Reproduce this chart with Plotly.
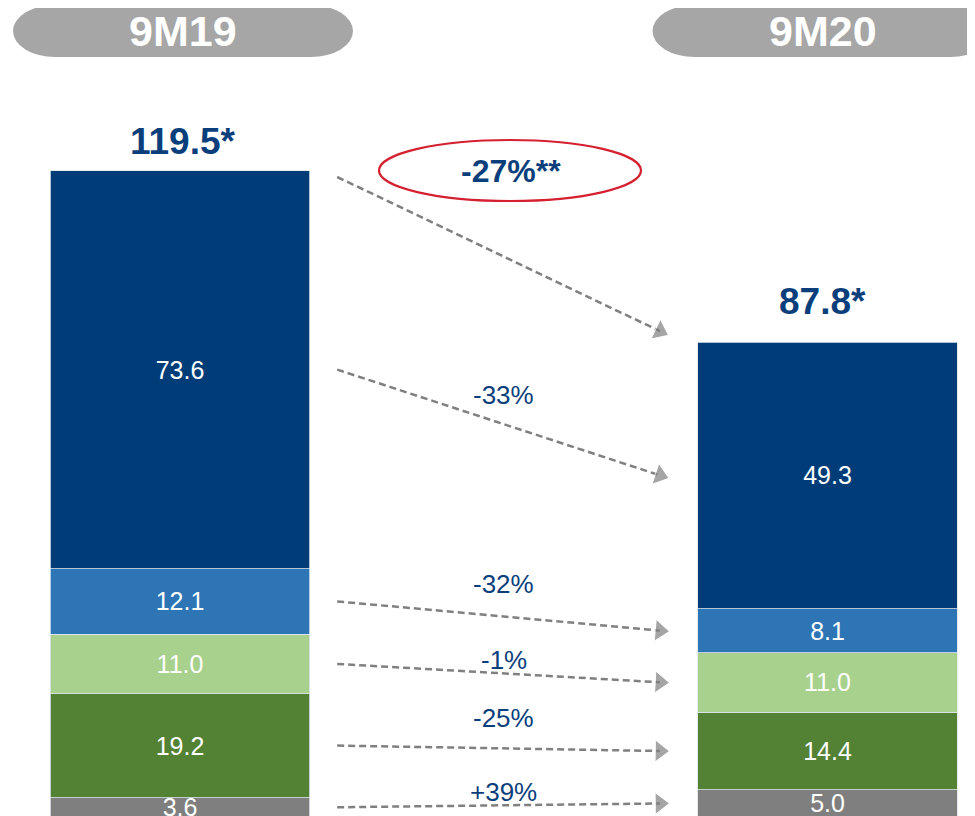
import plotly.graph_objects as go

# ---------------------------------------------------------------------------
# Data
# ---------------------------------------------------------------------------
periods = ["9M19", "9M20"]
segments = ["Grey", "Dark green", "Light green", "Mid blue", "Dark blue"]  # bottom -> top
values_9m19 = [3.6, 19.2, 11.0, 12.1, 73.6]
values_9m20 = [5.0, 14.4, 11.0, 8.1, 49.3]
totals = [119.5, 87.8]
total_labels = ["119.5*", "87.8*"]
total_change = "-27%**"
# change labels per segment, bottom -> top
change_labels = ["+39%", "-25%", "-1%", "-32%", "-33%"]

# ---------------------------------------------------------------------------
# Style
# ---------------------------------------------------------------------------
SEG_COLOURS = ["#7f7f7f", "#548235", "#a9d18e", "#2e75b6", "#003d78"]
TEXT_BLUE = "#0b3f7c"
ARROW_GREY = "#808080"
PILL_GREY = "#a6a6a6"
FONT = "Liberation Sans, Arial, sans-serif"

W, H = 975, 816
OFF = 8  # page body margin

BAR_POS = [0, 1]
BAR_W = 0.4015
X_RANGE = [-(180 - OFF) / 647.5, (W - 180 + OFF) / 647.5]
Y_RANGE = [(817 - OFF - H) / 5.41, (817 - OFF) / 5.41]
ARROW_X0 = BAR_POS[0] + BAR_W / 2 + 0.042
ARROW_X1 = BAR_POS[1] - BAR_W / 2 - 0.058
LABEL_SHIFT = [13, 30, 13, 32, 27]   # px above arrow midpoint, bottom -> top
HEAD_SHIFT = [3, -5]                 # px, header / total label nudge per bar


def paper(sx, sy):
    """screen pixel -> paper coords (figure sits OFF px into the page)"""
    return (sx - OFF) / W, 1 - (sy - OFF) / H


fig = go.Figure()

# stacked bars
for i, name in enumerate(segments):
    vals = [values_9m19[i], values_9m20[i]]
    fig.add_trace(go.Bar(
        x=BAR_POS, y=vals, width=BAR_W, name=name,
        marker=dict(color=SEG_COLOURS[i], line=dict(color="#dde6f0", width=0.8)),
        text=[f"{v:.1f}" for v in vals],
        textposition="inside", insidetextanchor="middle",
        constraintext="none", textangle=0,
        textfont=dict(family=FONT, size=25, color="white"),
        cliponaxis=False, hoverinfo="skip",
    ))


def mids(vals):
    out, base = [], 0.0
    for v in vals:
        out.append(base + v / 2)
        base += v
    return out


mid_a, mid_b = mids(values_9m19), mids(values_9m20)


def add_arrow(y0, y1):
    fig.add_trace(go.Scatter(
        x=[ARROW_X0, ARROW_X1], y=[y0, y1], mode="lines+markers",
        line=dict(color=ARROW_GREY, width=2.5, dash="7px,4px"),
        marker=dict(symbol="triangle-up", size=[0, 19], color=ARROW_GREY,
                    angleref="previous"),
        showlegend=False, hoverinfo="skip",
    ))


# segment arrows + change labels
for i, lab in enumerate(change_labels):
    add_arrow(mid_a[i], mid_b[i])
    fig.add_annotation(
        x=(ARROW_X0 + ARROW_X1) / 2, y=(mid_a[i] + mid_b[i]) / 2,
        text=lab, showarrow=False, yshift=LABEL_SHIFT[i], xshift=5,
        font=dict(family=FONT, size=26, color=TEXT_BLUE),
    )

# total arrow
add_arrow(totals[0] - 1.2, totals[1] + 2.0)

# totals above bars
for pos, tot, lab, shift, dx in zip(BAR_POS, totals, total_labels, [7, 18], HEAD_SHIFT):
    fig.add_annotation(
        x=pos, y=tot, text=f"<b>{lab}</b>", showarrow=False,
        yanchor="bottom", yshift=shift, xshift=dx,
        font=dict(family=FONT, size=37, color=TEXT_BLUE),
    )

# -27%** in red ellipse
ex0, ey0 = paper(379, 201)
ex1, ey1 = paper(641, 140)
fig.add_shape(type="circle", xref="paper", yref="paper",
              x0=ex0, x1=ex1, y0=ey0, y1=ey1,
              line=dict(color="#d42030", width=2.2), fillcolor="rgba(0,0,0,0)")
lx, ly = paper(511, 171)
fig.add_annotation(x=lx, y=ly, xref="paper", yref="paper",
                   xanchor="center", yanchor="middle",
                   text=f"<b>{total_change}</b>", showarrow=False,
                   font=dict(family=FONT, size=32, color=TEXT_BLUE))

# period headers in grey pills
PILL_Y = paper(0, 31)[1]
for pos, per, dx in zip(BAR_POS, periods, HEAD_SHIFT):
    common = dict(xref="x", yref="paper", xsizemode="pixel", ysizemode="pixel",
                  xanchor=pos, yanchor=PILL_Y, fillcolor=PILL_GREY,
                  line=dict(width=0), layer="below")
    fig.add_shape(type="rect", x0=dx - 128, x1=dx + 128, y0=-26, y1=26, **common)
    fig.add_shape(type="circle", x0=dx - 170, x1=dx - 86, y0=-26, y1=26, **common)
    fig.add_shape(type="circle", x0=dx + 86, x1=dx + 170, y0=-26, y1=26, **common)
    fig.add_annotation(x=pos, y=PILL_Y, xref="x", yref="paper",
                       xanchor="center", yanchor="middle", xshift=dx,
                       text=f"<b>{per}</b>", showarrow=False,
                       font=dict(family=FONT, size=43, color="white"))

fig.update_layout(
    barmode="stack",
    width=W, height=H,
    margin=dict(l=0, r=0, t=0, b=0),
    paper_bgcolor="white", plot_bgcolor="white",
    showlegend=False,
    xaxis=dict(range=X_RANGE, visible=False, fixedrange=True),
    yaxis=dict(range=Y_RANGE, visible=False, fixedrange=True),
)

fig.write_html("out.html")
